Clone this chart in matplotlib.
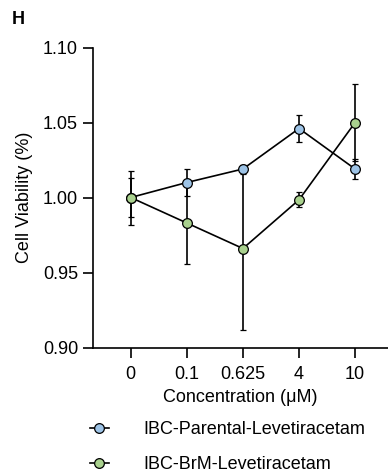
import matplotlib
matplotlib.use("Agg")
import matplotlib.pyplot as plt
import numpy as np
from matplotlib.lines import Line2D

plt.rcParams['font.family'] = ['Liberation Sans', 'DejaVu Sans']

categories = ["0", "0.1", "0.625", "4", "10"]
parental = [1.000, 1.010, 1.019, 1.046, 1.019]
parental_err = [0.018, 0.0088, 0.003, 0.0089, 0.0067]
brm = [1.000, 0.983, 0.966, 0.9985, 1.050]
brm_err = [0.013, 0.027, 0.0545, 0.005, 0.0255]
series_names = ["IBC-Parental-Levetiracetam", "IBC-BrM-Levetiracetam"]
yticks = [0.90, 0.95, 1.00, 1.05, 1.10]

blue = "#9DC3E6"
green = "#A9D18E"

fig = plt.figure(figsize=(3.88, 4.75), dpi=100)
ax = fig.add_axes([93.3/388, 1-347.5/475, 1-93.3/388, (347.5-47.5)/475])
x = np.arange(len(categories))

fs = 13
for vals, errs, col, name in [(parental, parental_err, blue, series_names[0]),
                              (brm, brm_err, green, series_names[1])]:
    ax.errorbar(x, vals, yerr=errs, color='black', lw=1.2, elinewidth=1.2,
                capsize=2.4, capthick=1.2, marker='o', markersize=7,
                markerfacecolor=col, markeredgecolor='black', markeredgewidth=0.9,
                label=name, clip_on=False, zorder=3)

ax.set_ylim(0.90, 1.10)
ax.set_yticks(yticks)
ax.set_yticklabels([f"{v:.2f}" for v in yticks])
ax.set_xlim(-0.667, 4.586)
ax.set_xticks(x)
ax.set_xticklabels(categories)
for s in ['top', 'right']:
    ax.spines[s].set_visible(False)
for s in ['left', 'bottom']:
    ax.spines[s].set_linewidth(1.2)
ax.tick_params(axis='both', labelsize=fs, width=1.2, length=7, colors='black')
ax.tick_params(axis='x', pad=6)
ax.tick_params(axis='y', pad=4)
ax.set_ylabel("Cell Viability (%)", fontsize=fs, labelpad=7)
ax.set_xlabel("Concentration (μM)", fontsize=fs, labelpad=5)

labels = series_names
h2 = [Line2D([], [], color='black', lw=1.2, marker='o', markersize=7,
             markerfacecolor=c, markeredgecolor='black', markeredgewidth=0.9)
      for c in (blue, green)]
fig.legend(h2, labels, loc='upper left', bbox_to_anchor=(90/388, 1-421/475),
           frameon=False, fontsize=fs, handlelength=1.05, handletextpad=1.9,
           labelspacing=1.0, borderpad=0, borderaxespad=0)

fig.text(12/388, 1-20/475, "H", fontsize=13, fontweight='bold', va='center', ha='left')

fig.savefig("out.png", dpi=100)
